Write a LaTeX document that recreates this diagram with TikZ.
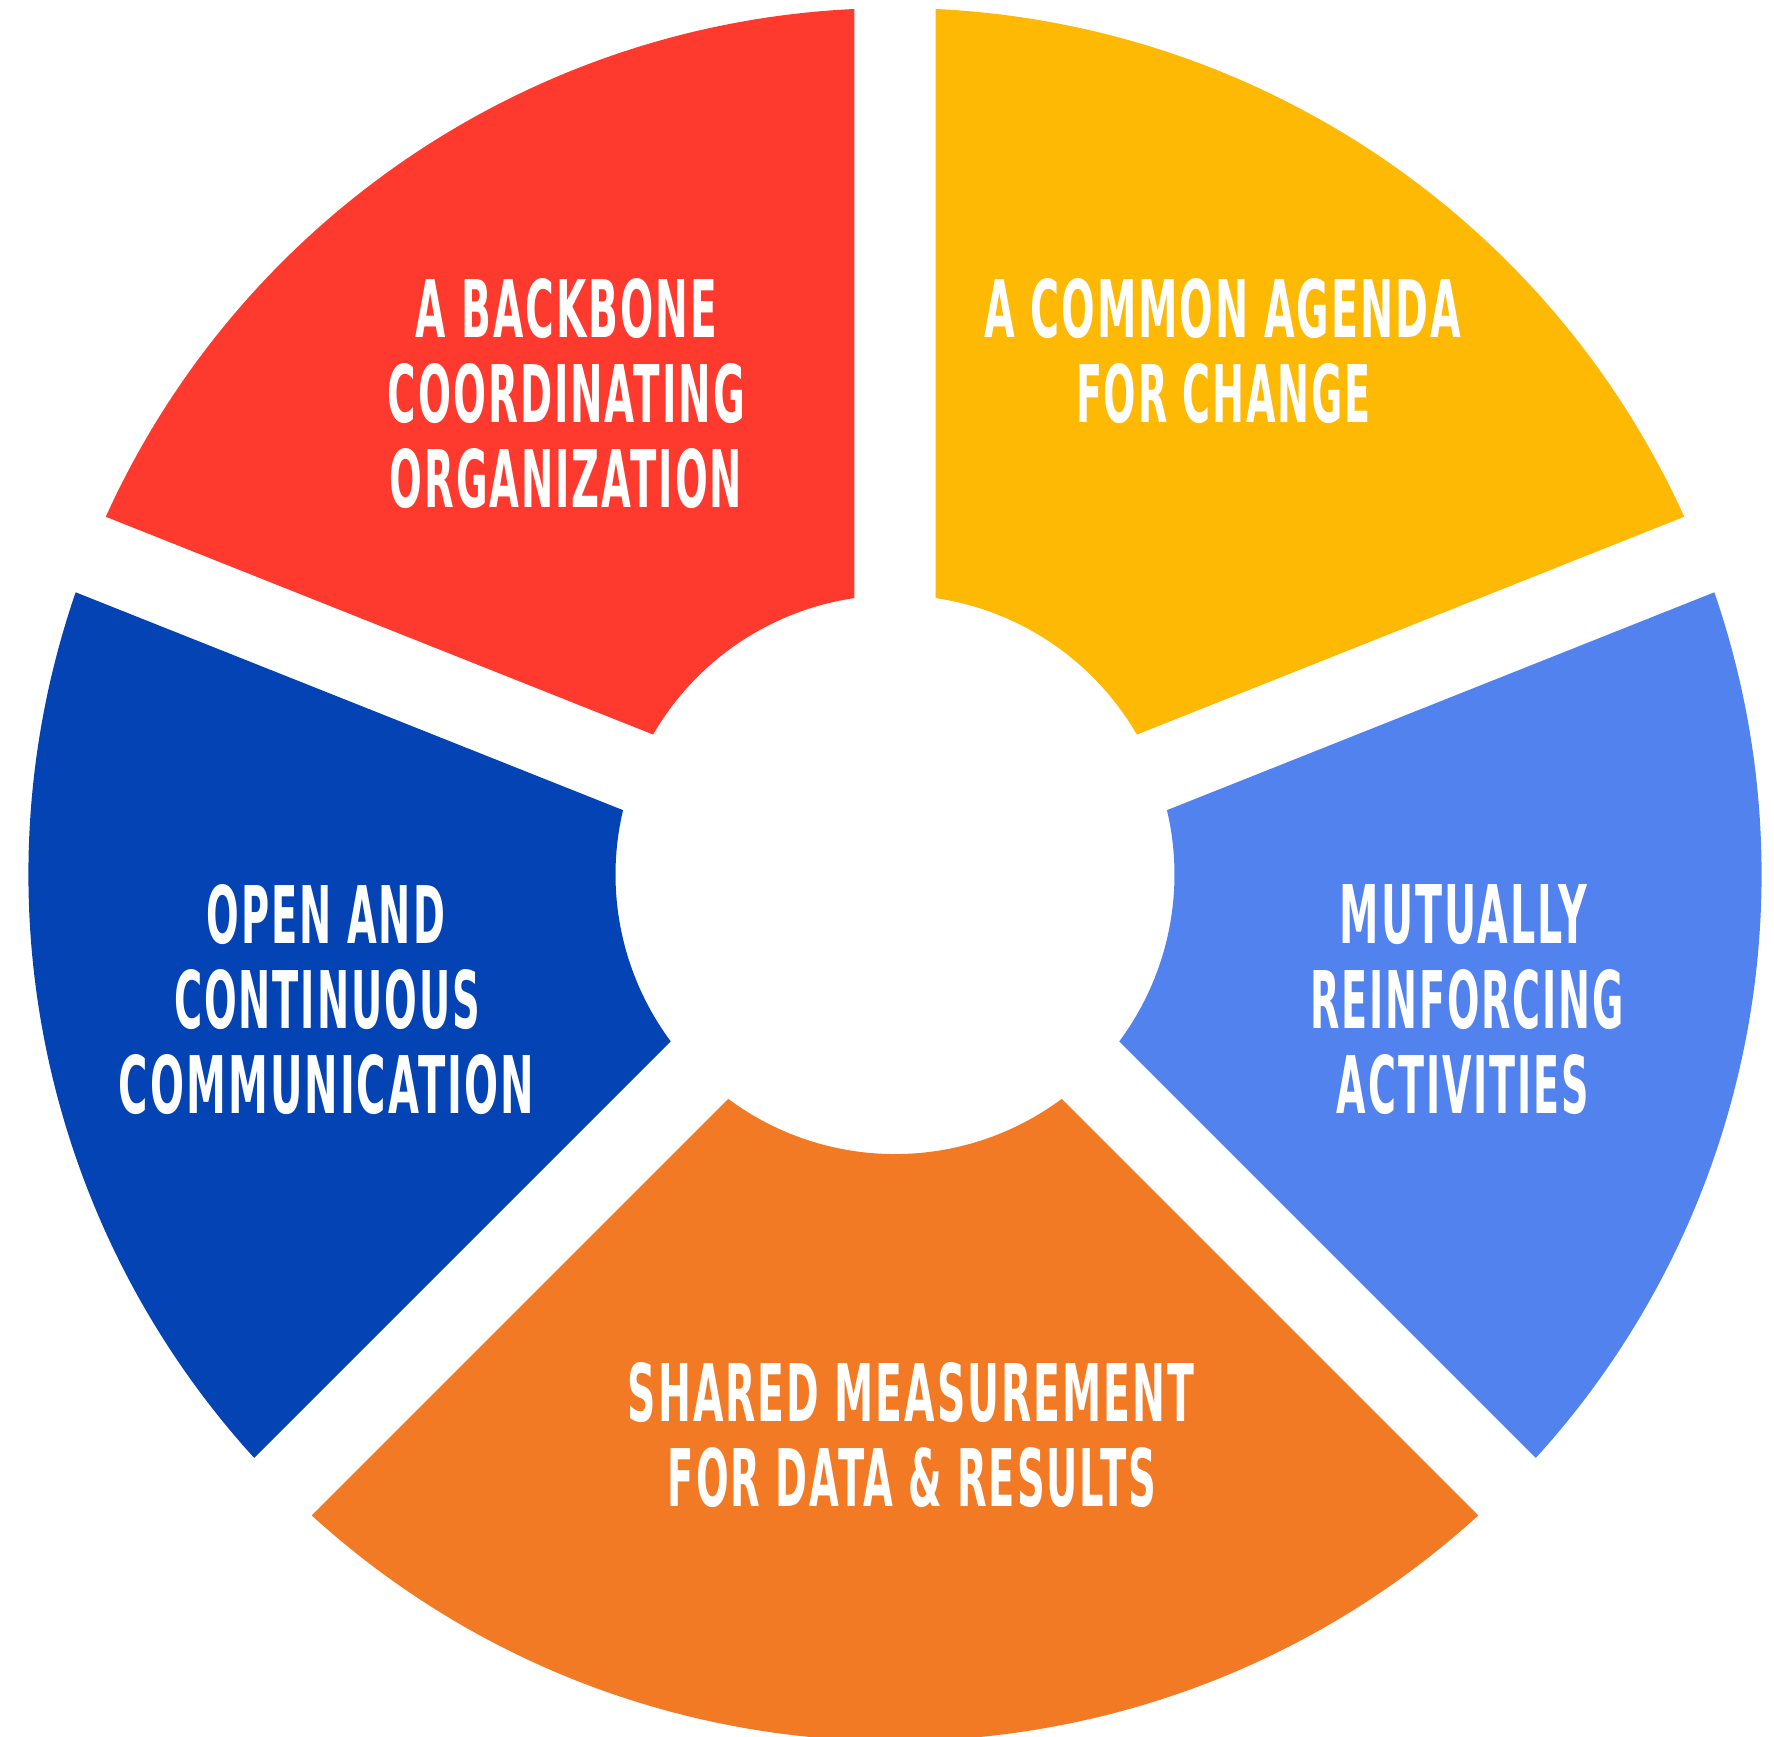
\documentclass[tikz,border=0pt]{standalone}
\usepackage{fontspec}
\usepackage{graphicx}
\setmainfont{DejaVu Sans}[LetterSpace=5]
\usetikzlibrary{calc}
\definecolor{segred}{HTML}{FE3A2E}
\definecolor{segyellow}{HTML}{FEB904}
\definecolor{seglightblue}{HTML}{5282EE}
\definecolor{segorange}{HTML}{F27A25}
\definecolor{segdarkblue}{HTML}{0343B4}
\newcommand\fitln[2]{\resizebox{#1}{0.59cm}{#2\hspace{-0.05em}}}
\newcommand\ringseg[3]{% #1 colour, #2 start boundary angle, #3 end boundary angle
  \fill[#1] ($(C)+({#2+2.69}:8.666cm)$) arc[start angle={#2+2.69}, end angle={#3-2.69}, radius=8.666cm]
    -- ($(C)+({#3-8.37}:2.795cm)$) arc[start angle={#3-8.37}, end angle={#2+8.37}, radius=2.795cm] -- cycle;}
\tikzset{lbl/.style={text=white, inner sep=0pt, outer sep=0pt, font=\bfseries, anchor=center}}
\begin{document}
\begin{tikzpicture}
\useasboundingbox (0,0) rectangle (17.74,17.37);
\coordinate (C) at (8.95,8.624);
\ringseg{segyellow}{21.7}{90}
\ringseg{segred}{90}{158.3}
\ringseg{segdarkblue}{158.3}{225}
\ringseg{segorange}{225}{315}
\ringseg{seglightblue}{315}{381.7}
% red
\node[lbl] (r1) at (5.655,14.28) {\fitln{2.99cm}{A BACKBONE}};
\node[lbl] (r2) at (5.655,13.435) {\fitln{3.55cm}{COORDINATING}};
\node[lbl] (r3) at (5.65,12.585) {\fitln{3.50cm}{ORGANIZATION}};
% yellow
\node[lbl] (y1) at (12.215,14.28) {\fitln{4.75cm}{A COMMON AGENDA}};
\node[lbl] (y2) at (12.225,13.435) {\fitln{2.93cm}{FOR CHANGE}};
% dark blue
\node[lbl] (d1) at (3.25,8.225) {\fitln{2.36cm}{OPEN AND}};
\node[lbl] (d2) at (3.26,7.37) {\fitln{3.04cm}{CONTINUOUS}};
\node[lbl] (d3) at (3.255,6.52) {\fitln{4.13cm}{COMMUNICATION}};
% light blue
\node[lbl] (l1) at (14.625,8.225) {\fitln{2.45cm}{MUTUALLY}};
\node[lbl] (l2) at (14.66,7.37) {\fitln{3.12cm}{REINFORCING}};
\node[lbl] (l3) at (14.62,6.52) {\fitln{2.50cm}{ACTIVITIES}};
% orange
\node[lbl] (o1) at (9.10,3.445) {\fitln{5.64cm}{SHARED MEASUREMENT}};
\node[lbl] (o2) at (9.11,2.59) {\fitln{4.86cm}{FOR DATA \& RESULTS}};
\end{tikzpicture}
\end{document}
